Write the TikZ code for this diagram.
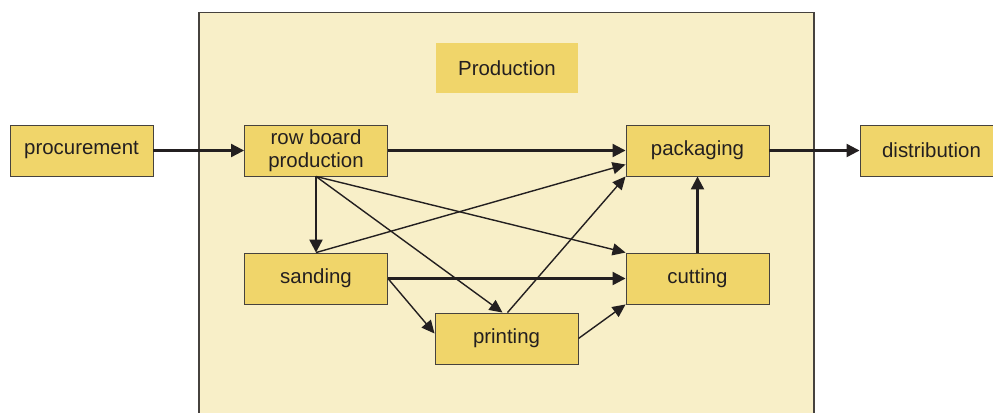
\documentclass[tikz,border=0pt]{standalone}
\usepackage{fontspec}
\setmainfont{Liberation Sans}
\usetikzlibrary{arrows.meta,calc}
\definecolor{boxfill}{RGB}{240,213,106}
\definecolor{areafill}{RGB}{248,239,200}
\definecolor{edgegray}{RGB}{70,66,62}
\definecolor{ink}{RGB}{35,31,32}
\begin{document}
\begin{tikzpicture}[x=1bp,y=-1bp,
  procbox/.style={draw=edgegray,line width=0.9bp,fill=boxfill,minimum width=143bp,minimum height=51bp,inner sep=0pt,align=center,text=ink,font=\fontsize{20.5}{23}\selectfont},
  thickarrow/.style={draw=ink,line width=2.2bp,-{Triangle[length=13bp,width=13bp]}},
  thinarrow/.style={draw=ink,line width=1.4bp,-{Triangle[length=13bp,width=12bp]}}]
\useasboundingbox (0,0) rectangle (993,412);
\fill[white] (0,0) rectangle (993,412);
\draw[draw=edgegray,line width=1.2bp,fill=areafill] (199,430) -- (199,12.5) -- (814,12.5) -- (814,430);
\node[fill=boxfill,minimum width=142bp,minimum height=50bp,inner sep=0pt,text=ink,font=\fontsize{20.5}{23}\selectfont] (prod) at (507,68) {Production};
\node[procbox] (pc) at (81.5,150.5) {procurement};
\node[procbox] (rb) at (316,150.5) {row board\\production};
\node[procbox] (pk) at (697.5,150.5) {packaging};
\node[procbox,text width=143bp] (ds) at (931.5,150.5) {distribution};
\node[procbox] (sd) at (316,278.5) {sanding};
\node[procbox] (ct) at (697.5,278.5) {cutting};
\node[procbox] (pr) at (506.5,338.5) {printing};
\draw[thickarrow] (pc) -- (rb);
\draw[thickarrow] (rb) -- (pk);
\draw[thickarrow] (pk) -- (ds);
\draw[thickarrow] (rb.south) -- (sd.north);
\draw[thickarrow] (sd) -- (ct);
\draw[thickarrow] (ct.north) -- (pk.south);
\draw[thinarrow] (rb.south) -- (ct.north west);
\draw[thinarrow] (rb.south) -- ($(pr.north)+(-4,0)$);
\draw[thinarrow] (sd.north) -- ($(pk.west)+(0,14)$);
\draw[thinarrow] (sd.east) -- ($(pr.west)+(0,-5)$);
\draw[thinarrow] ($(pr.north)+(1,0)$) -- (pk.south west);
\draw[thinarrow] (pr.east) -- (ct.south west);
\end{tikzpicture}
\end{document}
